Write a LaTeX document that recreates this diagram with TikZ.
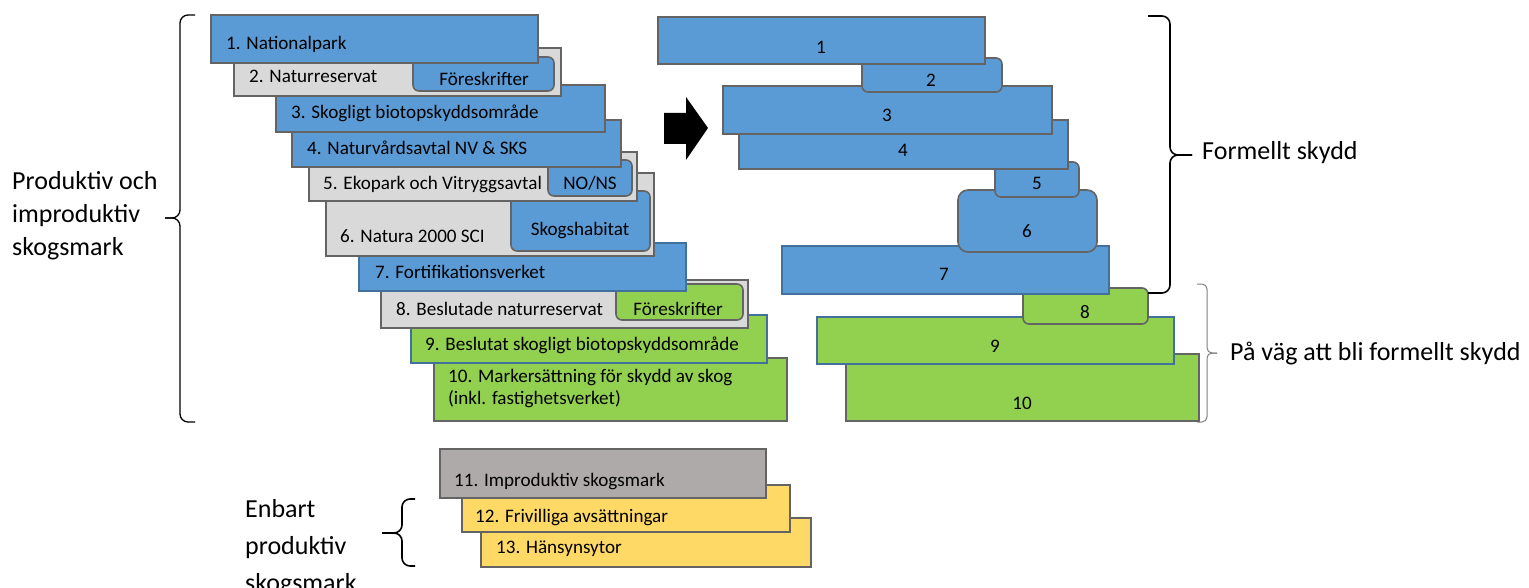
\documentclass[tikz,border=0pt]{standalone}
\usepackage{fontspec}
\setmainfont{Carlito}
\usepackage{tikz}
\definecolor{blu}{HTML}{5B9BD5}
\definecolor{bluedge}{HTML}{41719C}
\definecolor{gry}{HTML}{D9D9D9}
\definecolor{grn}{HTML}{92D050}
\definecolor{edge}{HTML}{646464}
\definecolor{stone}{HTML}{AEAAAA}
\definecolor{yel}{HTML}{FFD966}
\newcommand\boxfont{\fontsize{19.1}{22}\selectfont}
\newcommand\bigfont{\fontsize{26}{33}\selectfont}

\begin{document}
\begin{tikzpicture}[x=1pt,y=-1pt,
    box/.style={draw=edge,line width=1.6pt,anchor=north west,inner sep=0pt,outer sep=0pt},
    rbox/.style={box,rounded corners=6pt},
    txt/.style={font=\boxfont,inner sep=0pt,anchor=base west},
    num/.style={font=\boxfont,inner sep=0pt},
    brc/.style={line width=1.6pt,rounded corners=8pt}]
    \useasboundingbox (0,0) rectangle (1529,588);

    % left stack, lowest box first
    \node[box,fill=grn,minimum width=353pt,minimum height=63pt] (b10) at (434,358) {};
    \node[txt,anchor=north west,align=left,font=\fontsize{19.1}{22}\selectfont] (t10) at (448,369) {10. Markersättning för skydd av skog\\(inkl. fastighetsverket)};
    \node[box,fill=grn,draw=bluedge,minimum width=356pt,minimum height=48pt] (b9) at (411,315) {};
    \node[txt] (t9) at (425,350) {9. Beslutat skogligt biotopskyddsområde};
    \node[box,fill=gry,minimum width=367pt,minimum height=48pt] (b8) at (381,280) {};
    \node[rbox,fill=grn,minimum width=127pt,minimum height=36pt] (f8) at (616,284) {};
    \node[txt] (t8) at (396,315) {8. Beslutade naturreservat};
    \node[txt,anchor=base] (tf8) at (678,315) {Föreskrifter};
    \node[box,fill=blu,draw=bluedge,minimum width=327pt,minimum height=48pt] (b7) at (359,243) {};
    \node[txt] (t7) at (375,278) {7. Fortifikationsverket};
    \node[box,fill=gry,minimum width=328pt,minimum height=83pt] (b6) at (326,173) {};
    \node[rbox,fill=blu,minimum width=139pt,minimum height=60pt] (s6) at (511,191) {};
    \node[txt] (t6) at (340,243) {6. Natura 2000 SCI};
    \node[txt,anchor=base] (ts6) at (580,236) {Skogshabitat};
    \node[box,fill=gry,minimum width=328pt,minimum height=49pt] (b5) at (309,152) {};
    \node[rbox,fill=blu,minimum width=84pt,minimum height=36pt] (n5) at (548,160) {};
    \node[txt] (t5) at (323,190) {5. Ekopark och Vitryggsavtal};
    \node[txt,anchor=base] (tn5) at (590,190) {NO/NS};
    \node[box,fill=blu,minimum width=329pt,minimum height=47pt] (b4) at (292,120) {};
    \node[txt] (t4) at (307,155) {4. Naturvårdsavtal NV \& SKS};
    \node[box,fill=blu,minimum width=329pt,minimum height=47pt] (b3) at (276,85) {};
    \node[txt] (t3) at (291,119) {3. Skogligt biotopskyddsområde};
    \node[box,fill=gry,minimum width=327pt,minimum height=48pt] (b2) at (234,48) {};
    \node[rbox,fill=blu,minimum width=141pt,minimum height=34pt] (f2) at (413,57) {};
    \node[txt] (t2) at (249,83) {2. Naturreservat};
    \node[txt,anchor=base] (tf2) at (484,86) {Föreskrifter};
    \node[box,fill=blu,minimum width=327pt,minimum height=48pt] (b1) at (211,15) {};
    \node[txt] (t1) at (226,50) {1. Nationalpark};

    % arrow
    \fill (664,113) -- (686,113) -- (686,97) -- (708,128) -- (686,160) -- (686,144) -- (664,144) -- cycle;

    % right stack
    \node[box,fill=grn,minimum width=353pt,minimum height=67pt] (r10) at (846,354) {};
    \node[num] (l10) at (1022,403) {10};
    \node[box,fill=grn,draw=bluedge,minimum width=357pt,minimum height=47pt] (r9) at (817,317) {};
    \node[num] (l9) at (995,346) {9};
    \node[rbox,fill=grn,minimum width=125pt,minimum height=36pt] (r8) at (1023,288) {};
    \node[num] (l8) at (1085,312) {8};
    \node[box,fill=blu,draw=bluedge,minimum width=327pt,minimum height=48pt] (r7) at (782,246) {};
    \node[num] (l7) at (944,274) {7};
    \node[rbox,rounded corners=10pt,fill=blu,minimum width=139pt,minimum height=62pt] (r6) at (958,190) {};
    \node[num] (l6) at (1027,231) {6};
    \node[rbox,fill=blu,minimum width=84pt,minimum height=35pt] (r5) at (995,162) {};
    \node[num] (l5) at (1037,183) {5};
    \node[box,fill=blu,minimum width=329pt,minimum height=49pt] (r4) at (739,120) {};
    \node[num] (l4) at (903,150) {4};
    \node[box,fill=blu,minimum width=329pt,minimum height=48pt] (r3) at (723,86) {};
    \node[num] (l3) at (887,115) {3};
    \node[rbox,fill=blu,minimum width=140pt,minimum height=34pt] (r2) at (862,58) {};
    \node[num] (l2) at (931,80) {2};
    \node[box,fill=blu,minimum width=327pt,minimum height=47pt] (r1) at (658,17) {};
    \node[num] (l1) at (821,47) {1};

    % bottom stack
    \node[box,fill=yel,minimum width=330pt,minimum height=49pt] (b13) at (481,518) {};
    \node[txt] (t13) at (496,553) {13. Hänsynsytor};
    \node[box,fill=yel,minimum width=328pt,minimum height=47pt] (b12) at (462,485) {};
    \node[txt] (t12) at (475,522) {12. Frivilliga avsättningar};
    \node[box,fill=stone,minimum width=326pt,minimum height=49pt] (b11) at (440,449) {};
    \node[txt] (t11) at (454,486) {11. Improduktiv skogsmark};

    % braces
    \draw[brc,line width=1.3pt] (195,15) -- (180,15) -- (180,218) -- (165,218);
    \draw[brc,line width=1.3pt] (195,422) -- (180,422) -- (180,218) -- (165,218);
    \draw[brc] (1148,16) -- (1170,16) -- (1170,155) -- (1192,155);
    \draw[brc] (1148,293) -- (1170,293) -- (1170,155) -- (1192,155);
    \draw[brc,line width=1pt,draw=gray,rounded corners=5pt] (1197,284) -- (1207,284) -- (1207,353) -- (1217,353);
    \draw[brc,line width=1pt,draw=gray,rounded corners=5pt] (1197,422) -- (1207,422) -- (1207,353) -- (1217,353);
    \draw[brc] (415,499) -- (402,499) -- (402,533) -- (382,533);
    \draw[brc] (415,566) -- (402,566) -- (402,533) -- (382,533);

    % side labels
    \node[font=\bigfont,align=left,inner sep=0pt,anchor=west] (prod) at (12,216) {Produktiv och\\improduktiv\\skogsmark};
    \node[font=\fontsize{26}{37}\selectfont,align=left,inner sep=0pt,anchor=west] (enb) at (245,548) {Enbart\\produktiv\\skogsmark};
    \node[font=\bigfont,inner sep=0pt,anchor=base west] (form) at (1202,160) {Formellt skydd};
    \node[font=\bigfont,inner sep=0pt,anchor=base west] (pavag) at (1230,360) {På väg att bli formellt skydd};
\end{tikzpicture}
\end{document}
